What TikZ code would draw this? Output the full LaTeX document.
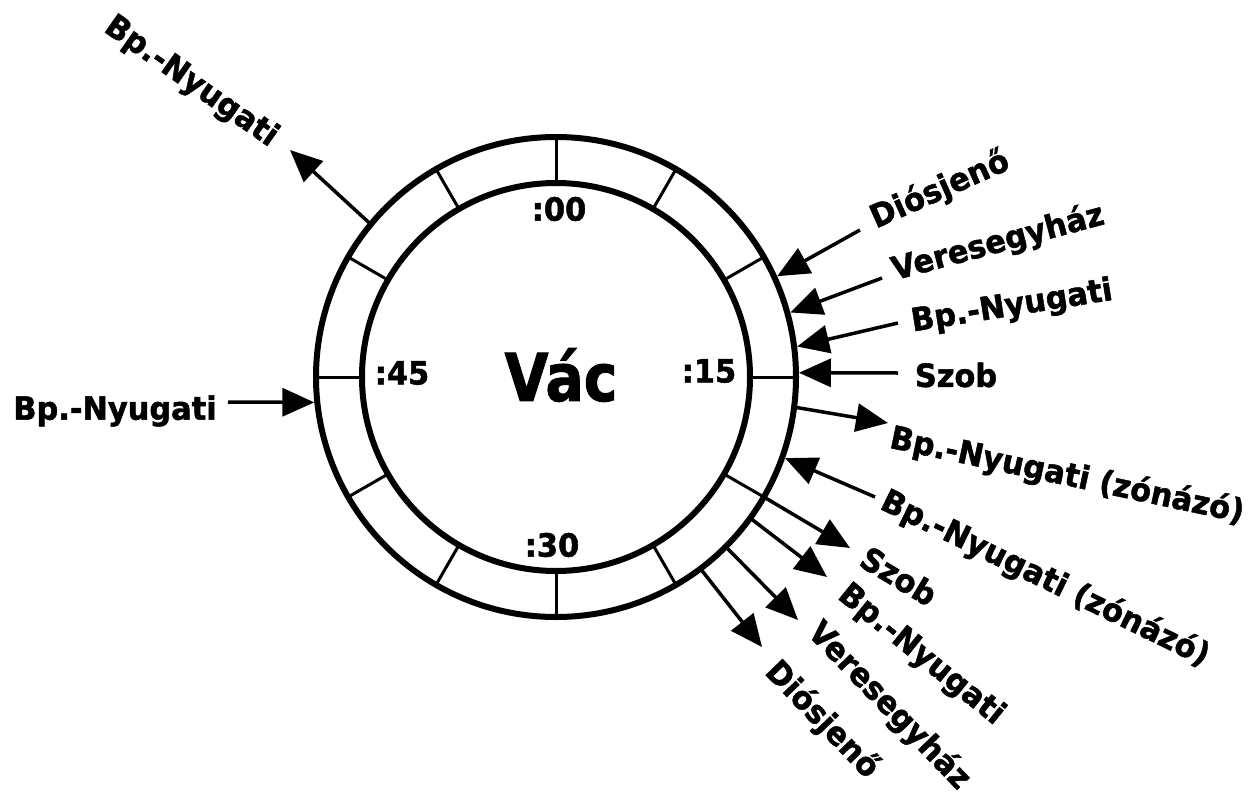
\documentclass[tikz,border=0pt]{standalone}
\usepackage{fontspec}
\setmainfont{DejaVu Sans}[FakeStretch=0.95,BoldFeatures={FakeBold=1.5}]
\newfontfamily\vacfont{DejaVu Sans}[FakeStretch=0.86,BoldFeatures={FakeBold=1.5}]
\usetikzlibrary{arrows.meta,calc}

\begin{document}
\begin{tikzpicture}[x=1pt,y=-1pt,>={Triangle[length=32pt,width=28pt]},
    ring/.style={line width=6pt},
    tick/.style={line width=3pt},
    conn/.style={->,line width=3.5pt},
    lbl/.style={font=\fontsize{32}{38}\selectfont\bfseries,inner sep=0pt},
    mins/.style={font=\fontsize{32}{38}\selectfont\bfseries,inner sep=0pt}]
  \useasboundingbox (0,0) rectangle (1254,795);
  \coordinate (c) at (556,377);
  % the clock face
  \draw[ring] (c) circle (240);
  \draw[ring] (c) circle (194);
  \foreach \a in {0,30,...,330}
    \draw[tick] ($(c)+(\a:194)$) -- ($(c)+(\a:240)$);
  \node[font=\vacfont\fontsize{66}{70}\selectfont\bfseries,inner sep=0pt] (vac) at (561,375) {Vác};
  \node[mins] (m00) at (559,209) {:00};
  \node[mins] (m15) at (709,371) {:15};
  \node[mins] (m30) at (552,545) {:30};
  \node[mins] (m45) at (402,373) {:45};

  % departures and arrivals, left side
  \coordinate (pNW) at ($(c)+(-140.5:240)$);
  \coordinate (eNW) at (290,150);
  \draw[conn] (pNW) -- (eNW);
  \node[lbl,rotate=-35] (nyuNW) at (191,82) {Bp.-Nyugati};
  \coordinate (pW) at ($(c)+(174:243)$);
  \coordinate (eW) at (228,402);
  \draw[conn] (eW) -- (pW);
  \node[lbl] (nyuW) at (115,411) {Bp.-Nyugati};

  % arrivals, right side
  \coordinate (pDioIn) at ($(c)+(-24.5:243)$);
  \coordinate (eDioIn) at (860,230);
  \draw[conn] (eDioIn) -- (pDioIn);
  \node[lbl,rotate=24] (dioIn) at (940,190) {Diósjenő};
  \coordinate (pVerIn) at ($(c)+(-15.4:243)$);
  \coordinate (eVerIn) at (882,278);
  \draw[conn] (eVerIn) -- (pVerIn);
  \node[lbl,rotate=15] (verIn) at (998,243) {Veresegyház};
  \coordinate (pNyuIn) at ($(c)+(-7.2:243)$);
  \coordinate (eNyuIn) at (898,323);
  \draw[conn] (eNyuIn) -- (pNyuIn);
  \node[lbl,rotate=9] (nyuIn) at (1012,307) {Bp.-Nyugati};
  \coordinate (pSzoIn) at ($(c)+(-1:243)$);
  \coordinate (eSzoIn) at (898,373);
  \draw[conn] (eSzoIn) -- (pSzoIn);
  \node[lbl] (szoIn) at (956,375) {Szob};

  % zonazo trains
  \coordinate (pZonOut) at ($(c)+(7.2:240)$);
  \coordinate (eZonOut) at (888,423);
  \draw[conn] (pZonOut) -- (eZonOut);
  \node[lbl,rotate=-12] (zonOut) at (1067,476) {Bp.-Nyugati (zónázó)};
  \coordinate (pZonIn) at ($(c)+(19.5:243)$);
  \coordinate (eZonIn) at (875,497);
  \draw[conn] (eZonIn) -- (pZonIn);
  \node[lbl,rotate=-26] (zonIn) at (1045,579) {Bp.-Nyugati (zónázó)};

  % departures, lower right
  \coordinate (pSzoOut) at ($(c)+(30:240)$);
  \coordinate (eSzoOut) at (850,548);
  \draw[conn] (pSzoOut) -- (eSzoOut);
  \node[lbl,rotate=-31] (szoOut) at (899,576) {Szob};
  \coordinate (pNyuOut) at ($(c)+(36:240)$);
  \coordinate (eNyuOut) at (827,577);
  \draw[conn] (pNyuOut) -- (eNyuOut);
  \node[lbl,rotate=-39] (nyuOut) at (921,655) {Bp.-Nyugati};
  \coordinate (pVerOut) at ($(c)+(45:240)$);
  \coordinate (eVerOut) at (798,620);
  \draw[conn] (pVerOut) -- (eVerOut);
  \node[lbl,rotate=-46] (verOut) at (889,706) {Veresegyház};
  \coordinate (pDioOut) at ($(c)+(53:240)$);
  \coordinate (eDioOut) at (762,647);
  \draw[conn] (pDioOut) -- (eDioOut);
  \node[lbl,rotate=-46] (dioOut) at (822,720) {Diósjenő};
\end{tikzpicture}
\end{document}
